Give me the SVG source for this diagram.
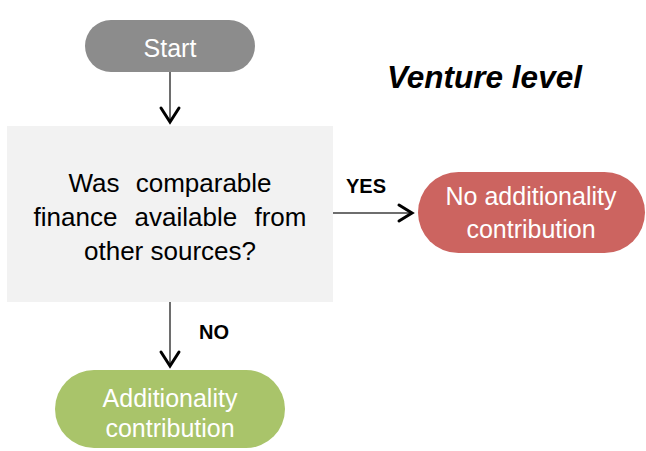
<svg xmlns="http://www.w3.org/2000/svg" width="646" height="451" viewBox="0 0 646 451">
<defs>
<style>
.t{font-family:"Liberation Sans",Arial,sans-serif;}
.w{fill:#ffffff;font-size:25px;text-anchor:middle;}
.q{fill:#000000;font-size:26px;text-anchor:middle;}
.lbl{fill:#000000;font-size:20px;font-weight:bold;}
.ln{stroke:#6e6e6e;stroke-width:2;fill:none;}
.hd{stroke:#000000;stroke-width:3;fill:none;stroke-linecap:round;stroke-linejoin:miter;}
</style>
</defs>
<rect width="646" height="451" fill="#ffffff"/>
<g id="start">
<rect x="85" y="20" width="170" height="52" rx="26" fill="#8c8c8c"/>
<text class="t w" x="170" y="57" font-size="24">Start</text>
</g>
<g id="title">
<text class="t" x="387" y="88" font-size="31.5" font-weight="bold" font-style="italic" fill="#000000">Venture level</text>
</g>
<g id="question">
<rect x="7" y="126" width="326" height="176" fill="#f2f2f2"/>
<text class="t q" x="170" y="192" word-spacing="9">Was comparable</text>
<text class="t q" x="170" y="226" word-spacing="10">finance available from</text>
<text class="t q" x="170" y="260">other sources?</text>
</g>
<g id="no-contribution">
<rect x="418" y="172" width="227" height="81" rx="40.5" fill="#cc6460"/>
<text class="t w" x="531" y="205">No additionality</text>
<text class="t w" x="531" y="238">contribution</text>
</g>
<g id="contribution">
<rect x="55" y="370" width="230" height="78" rx="39" fill="#a9c46a"/>
<text class="t w" x="170" y="407">Additionality</text>
<text class="t w" x="170" y="437">contribution</text>
</g>
<g id="connectors">
<line class="ln" x1="170" y1="72" x2="170" y2="122"/>
<polyline class="hd" points="161,108 170,122 179,108"/>
<line class="ln" x1="333" y1="213" x2="411" y2="213"/>
<polyline class="hd" points="399,205 412,213 399,221"/>
<line class="ln" x1="170" y1="302" x2="170" y2="366"/>
<polyline class="hd" points="161,352 170,366 179,352"/>
<text class="t lbl" x="346" y="193">YES</text>
<text class="t lbl" x="199" y="339">NO</text>
</g>
</svg>
